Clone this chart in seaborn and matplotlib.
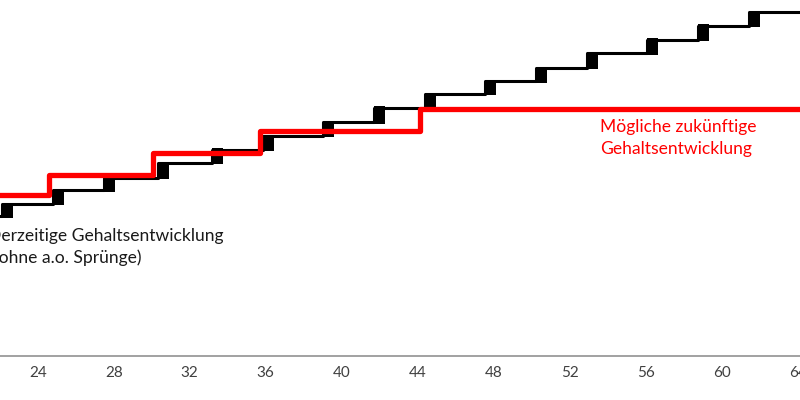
import matplotlib
matplotlib.use("Agg")
import matplotlib.pyplot as plt
import seaborn as sns
import pandas as pd
import numpy as np

# --- data (age in years, salary index 0..100) ---
black_step_ages = [22.12, 24.81, 27.49, 30.33, 33.17, 35.86, 39.02, 41.70, 44.38,
                   47.54, 50.23, 52.91, 56.07, 58.75, 61.44]
black_levels = [39.3, 42.7, 46.6, 50.1, 54.2, 57.9, 61.8, 65.7, 69.7, 73.6,
                77.2, 80.9, 85.0, 88.9, 92.8, 96.6]   # level before first step, then after each step
red_step_ages = [24.6, 30.05, 35.7, 44.1]
red_levels = [45.2, 50.8, 56.9, 63.3, 69.5]
x_ticks = [24, 28, 32, 36, 40, 44, 48, 52, 56, 60, 64]
label_black = ["Derzeitige Gehaltsentwicklung", "(ohne a.o. Sprünge)"]
label_red = ["Mögliche zukünftige", "Gehaltsentwicklung"]

sns.set_theme(style="white")
plt.rcParams["font.family"] = ["Lato", "DejaVu Sans"]

fig = plt.figure(figsize=(8, 4), dpi=100)
ax = fig.add_axes([0, 44 / 400, 1, 356 / 400])
ax.set_xlim(22.016, 64.12)
ax.set_ylim(0, 100)

x_start, x_end = 21.0, 66.0

# black step line
bdf = pd.DataFrame({"age": [x_start] + black_step_ages + [x_end],
                    "val": black_levels + [black_levels[-1]]})
sns.lineplot(data=bdf, x="age", y="val", ax=ax, color="black", lw=2.2,
             drawstyle="steps-post", estimator=None, sort=False, zorder=2)

# black blocks at each step
lows = np.array(black_levels[:-1])
highs = np.array(black_levels[1:])
ax.bar(black_step_ages, highs - lows + 0.8, bottom=lows - 0.4, width=0.58,
       align="edge", color="black", linewidth=0, zorder=2)

# red step line
rdf = pd.DataFrame({"age": [x_start] + red_step_ages + [x_end],
                    "val": red_levels + [red_levels[-1]]})
sns.lineplot(data=rdf, x="age", y="val", ax=ax, color="#ff0000", lw=3.8,
             drawstyle="steps-post", estimator=None, sort=False, zorder=3)

# axes styling
for s in ["left", "right", "top"]:
    ax.spines[s].set_visible(False)
ax.spines["bottom"].set_color("#9a9a9a")
ax.spines["bottom"].set_linewidth(1.3)
ax.set_xticks(x_ticks)
ax.set_xticklabels([str(t) for t in x_ticks], fontsize=11, color="#404040")
ax.tick_params(axis="x", length=0, pad=7)
ax.set_yticks([])
ax.set_xlabel("")
ax.set_ylabel("")

# annotations
ax.text(21.36, 33.7, label_black[0], fontsize=12.6, color="#1a1a1a",
        ha="left", va="center", clip_on=False)
ax.text(21.68, 27.5, label_black[1], fontsize=12.6, color="#1a1a1a",
        ha="left", va="center", clip_on=False)
ax.text(53.60, 64.3, label_red[0], fontsize=12.6, color="#ff0000",
        ha="left", va="center")
ax.text(53.60, 58.1, label_red[1], fontsize=12.6, color="#ff0000",
        ha="left", va="center")

fig.savefig("out.png", dpi=100)
